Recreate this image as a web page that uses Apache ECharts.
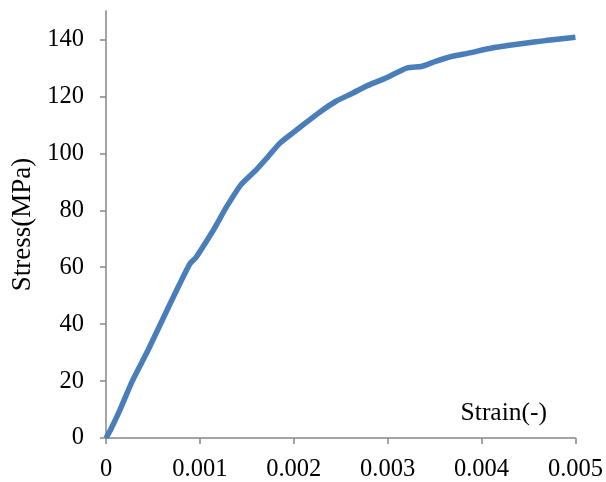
<!DOCTYPE html>
<html>
<head>
<meta charset="utf-8">
<script src="https://cdn.jsdelivr.net/npm/echarts@6/dist/echarts.min.js"></script>
<style>
  html, body { margin: 0; padding: 0; background: #fff; }
  #chart { width: 606px; height: 482px; }
</style>
</head>
<body>
<div id="chart"></div>
<script>
// 读图得到的应力-应变数据
const strain = [0, 0.00005, 0.00015, 0.00028, 0.00045, 0.00068, 0.00089, 0.00096, 0.00114, 0.00119,
  0.00128, 0.00144, 0.00160, 0.00172, 0.00185, 0.00199, 0.00215, 0.00229, 0.00245, 0.00263,
  0.00277, 0.00294, 0.00309, 0.00321, 0.00337, 0.00351, 0.00369, 0.00386, 0.00411, 0.00440,
  0.00468, 0.00500];
const stress = [0, 3, 10, 20, 31, 47, 61, 63.5, 72.8, 75.7,
  81, 89.1, 94.2, 98.6, 103.5, 107.2, 111.3, 114.8, 118.3, 121.2,
  123.6, 125.9, 128.2, 130, 130.6, 132.3, 134.1, 135.2, 137, 138.4,
  139.6, 140.8];
const xTicks = [0, 0.001, 0.002, 0.003, 0.004, 0.005];
const yTicks = [0, 20, 40, 60, 80, 100, 120, 140];

const font = 'Liberation Serif, Times New Roman, serif';
const axisGray = '#868686';

const chart = echarts.init(document.getElementById('chart'));
chart.setOption({
  animation: false,
  grid: { left: 106, right: 29, top: 11, bottom: 44 },
  xAxis: {
    type: 'value',
    min: 0,
    max: 0.005,
    interval: 0.001,
    splitLine: { show: false },
    axisLine: { lineStyle: { color: axisGray, width: 1.5 } },
    axisTick: { show: true, length: 6, lineStyle: { color: axisGray, width: 1.5 }, customValues: xTicks },
    axisLabel: {
      color: '#000', fontFamily: font, fontSize: 24.5, margin: 19,
      customValues: xTicks,
      formatter: v => v === 0 ? '0' : v.toFixed(3)
    }
  },
  yAxis: {
    type: 'value',
    min: 0,
    max: 150,
    name: 'Stress(MPa)',
    nameLocation: 'middle',
    nameGap: 70,
    nameTextStyle: { color: '#000', fontFamily: font, fontSize: 27 },
    splitLine: { show: false },
    axisLine: { show: true, lineStyle: { color: axisGray, width: 1.5 } },
    axisTick: { show: true, length: 6, lineStyle: { color: axisGray, width: 1.5 }, customValues: yTicks },
    axisLabel: { color: '#000', fontFamily: font, fontSize: 24.5, margin: 22, customValues: yTicks }
  },
  graphic: [{
    type: 'text',
    right: 59,
    top: 400,
    style: { text: 'Strain(-)', fill: '#000', font: '25.5px ' + font }
  }],
  series: [{
    type: 'line',
    data: strain.map((s, i) => [s, stress[i]]),
    showSymbol: false,
    smooth: 0.2,
    lineStyle: { color: '#4a7ebb', width: 5.5 }
  }]
});
</script>
</body>
</html>
